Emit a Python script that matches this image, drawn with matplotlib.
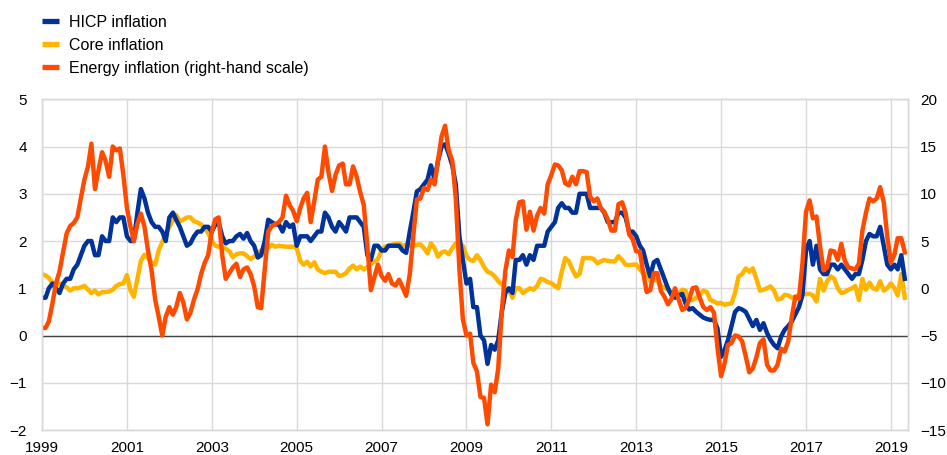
import matplotlib
matplotlib.use('Agg')
import matplotlib.pyplot as plt
from matplotlib.lines import Line2D
import pandas as pd

plt.rcParams['font.family'] = ['Liberation Sans', 'DejaVu Sans']
plt.rcParams['font.size'] = 11

# monthly data, Jan 1999 - May 2019 (annual % changes)
hicp = [
    0.8, 0.8, 1.0, 1.1, 1.0, 0.9, 1.1, 1.2, 1.2, 1.4, 1.5, 1.7,        # 1999
    1.9, 2.0, 2.0, 1.7, 1.7, 2.1, 2.0, 2.0, 2.5, 2.4, 2.5, 2.5,        # 2000
    2.1, 2.0, 2.0, 2.6, 3.1, 2.9, 2.6, 2.4, 2.3, 2.3, 2.2, 2.0,        # 2001
    2.5, 2.6, 2.45, 2.3, 2.1, 1.9, 1.95, 2.1, 2.2, 2.2, 2.3, 2.3,      # 2002
    2.2, 2.35, 2.4, 2.1, 1.95, 2.0, 2.0, 2.1, 2.15, 2.05, 2.17, 2.0,   # 2003
    1.9, 1.65, 1.7, 2.0, 2.45, 2.4, 2.35, 2.35, 2.2, 2.4, 2.3, 2.35,   # 2004
    1.9, 2.1, 2.1, 2.1, 2.0, 2.1, 2.2, 2.2, 2.6, 2.5, 2.3, 2.2,        # 2005
    2.4, 2.3, 2.2, 2.5, 2.5, 2.5, 2.4, 2.3, 1.7, 1.6, 1.9, 1.9,        # 2006
    1.8, 1.8, 1.9, 1.9, 1.9, 1.9, 1.8, 1.75, 2.2, 2.6, 3.05, 3.1,      # 2007
    3.2, 3.3, 3.6, 3.3, 3.7, 4.0, 4.05, 3.85, 3.6, 3.2, 2.1, 1.6,      # 2008
    1.1, 1.2, 0.6, 0.6, 0.0, -0.1, -0.6, -0.2, -0.3, -0.1, 0.5, 0.9,   # 2009
    1.0, 0.9, 1.6, 1.6, 1.7, 1.5, 1.7, 1.6, 1.9, 1.9, 1.9, 2.2,        # 2010
    2.3, 2.4, 2.7, 2.8, 2.7, 2.7, 2.6, 2.6, 3.0, 3.0, 3.0, 2.7,        # 2011
    2.7, 2.7, 2.7, 2.6, 2.4, 2.4, 2.4, 2.6, 2.6, 2.5, 2.2, 2.2,        # 2012
    2.1, 1.9, 1.8, 1.5, 1.25, 1.55, 1.6, 1.4, 1.2, 1.0, 0.85, 0.8,     # 2013
    0.85, 0.88, 0.68, 0.55, 0.58, 0.5, 0.44, 0.38, 0.35, 0.33, 0.33, 0.15,  # 2014
    -0.45, -0.3, -0.1, 0.2, 0.5, 0.58, 0.55, 0.5, 0.35, 0.2, 0.33, 0.12,    # 2015
    0.26, 0.05, -0.09, -0.2, -0.27, -0.02, 0.12, 0.2, 0.3, 0.45, 0.6, 0.85, # 2016
    1.8, 2.0, 1.5, 1.9, 1.4, 1.3, 1.3, 1.5, 1.5, 1.4, 1.5, 1.4,        # 2017
    1.3, 1.2, 1.3, 1.3, 1.6, 2.0, 2.15, 2.1, 2.1, 2.3, 1.9, 1.5,       # 2018
    1.4, 1.5, 1.4, 1.7, 1.2,                                           # 2019
]

core = [
    1.30, 1.27, 1.22, 1.12, 1.07, 1.09, 1.07, 1.02, 0.95, 1.0, 1.0, 1.02,
    1.05, 0.97, 0.9, 0.95, 0.87, 0.92, 0.92, 0.93, 0.97, 1.05, 1.09, 1.1,
    1.28, 0.95, 0.82, 1.2, 1.58, 1.71, 1.64, 1.55, 1.5, 1.8, 1.98, 2.15,
    2.3, 2.45, 2.55, 2.42, 2.45, 2.5, 2.5, 2.42, 2.39, 2.35, 2.27, 2.17,
    2.0, 1.9, 1.88, 1.86, 1.84, 1.78, 1.66, 1.72, 1.74, 1.74, 1.68, 1.62,
    1.67, 1.75, 1.8, 1.82, 1.86, 1.92, 1.88, 1.9, 1.89, 1.88, 1.88, 1.88,
    1.85, 1.58, 1.50, 1.56, 1.46, 1.55, 1.4, 1.35, 1.32, 1.35, 1.35, 1.35,
    1.26, 1.28, 1.32, 1.42, 1.48, 1.40, 1.46, 1.40, 1.45, 1.52, 1.56, 1.62,
    1.80, 1.88, 1.90, 1.92, 1.94, 1.95, 1.90, 1.92, 1.90, 1.90, 1.92, 1.93,
    1.85, 1.74, 1.95, 1.85, 1.67, 1.76, 1.78, 1.72, 1.85, 1.95, 1.95, 1.90,
    1.68, 1.60, 1.58, 1.7, 1.6, 1.45, 1.35, 1.32, 1.25, 1.15, 1.08, 1.0,
    0.95, 0.8, 1.0, 1.0, 0.9, 0.95, 1.0, 0.97, 1.05, 1.2, 1.18, 1.13,
    1.11, 1.05, 1.0, 1.35, 1.64, 1.57, 1.4, 1.25, 1.3, 1.64, 1.64, 1.64,
    1.62, 1.53, 1.57, 1.6, 1.58, 1.57, 1.57, 1.68, 1.6, 1.5, 1.49, 1.50,
    1.5, 1.4, 1.32, 1.30, 1.16, 1.18, 1.16, 1.05, 1.02, 0.97, 0.9, 0.82,
    0.88, 0.97, 0.95, 0.76, 0.75, 0.8, 0.86, 0.95, 0.92, 0.75, 0.72, 0.68,
    0.69, 0.65, 0.67, 0.68, 0.9, 1.25, 1.3, 1.42, 1.35, 1.42, 1.2, 0.95,
    0.97, 1.0, 1.04, 0.95, 0.76, 0.78, 0.86, 0.85, 0.8, 0.82, 0.86, 0.88,
    0.88, 0.88, 0.85, 0.72, 1.2, 0.95, 1.15, 1.25, 1.2, 1.0, 0.9, 0.92,
    0.97, 1.0, 1.05, 0.75, 1.2, 0.97, 1.12, 1.0, 0.97, 1.15, 0.95, 1.0,
    1.1, 1.0, 0.85, 1.3, 0.8,
]

energy = [
    -4.2, -4.2, -3.5, -1.6, 0.5, 1.8, 3.8, 5.8, 6.6, 6.9, 7.5, 9.5,
    11.5, 12.9, 15.3, 10.5, 12.5, 14.4, 13.5, 11.8, 15.0, 14.6, 14.8, 12.0,
    8.5, 6.5, 5.0, 6.8, 7.9, 6.5, 4.0, 1.9, -1.2, -3.0, -5.0, -3.0,
    -2.0, -2.8, -2.0, -0.5, -1.5, -3.3, -2.6, -1.2, -0.1, 1.5, 2.7, 3.5,
    6.0, 7.3, 7.5, 3.5, 1.0, 1.6, 2.2, 2.6, 1.2, 2.0, 2.2, 1.5,
    0.2, -2.0, -2.1, 2.0, 6.0, 6.6, 6.8, 7.0, 7.5, 9.8, 8.8, 8.2,
    7.1, 8.5, 9.5, 10.1, 7.0, 9.2, 11.5, 11.8, 15.0, 12.3, 10.3, 12.0,
    13.0, 13.2, 11.0, 11.0, 12.9, 11.8, 10.2, 8.8, 4.5, -0.2, 1.2, 2.5,
    1.3, 0.8, 1.5, 0.5, 0.3, 0.9, 0.1, -0.8, 1.5, 5.5, 9.4, 9.5,
    10.6, 10.4, 11.5, 11.0, 13.5, 16.1, 17.2, 14.6, 13.5, 9.5, 2.0, -3.3,
    -5.0, -4.8, -7.9, -8.8, -11.5, -11.6, -14.4, -10.2, -11.0, -8.5, -2.4, 1.8,
    4.0, 3.3, 7.2, 9.1, 9.2, 6.2, 8.1, 6.1, 7.7, 8.5, 7.9, 11.0,
    12.0, 13.1, 13.0, 12.5, 11.1, 10.9, 11.8, 11.0, 12.4, 12.4, 12.3, 9.7,
    9.2, 9.5, 8.5, 8.1, 7.3, 6.1, 6.1, 8.9, 9.1, 8.0, 5.7, 5.2,
    3.9, 3.9, 1.7, -0.4, -0.2, 1.6, 1.6, -0.3, -0.9, -1.7, -1.1, 0.0,
    -1.2, -2.3, -2.1, -1.2, 0.0, 0.1, -1.0, -2.0, -2.3, -2.0, -2.6, -6.3,
    -9.3, -7.9, -6.0, -5.8, -5.0, -5.1, -5.6, -7.2, -8.9, -8.5, -7.3, -5.8,
    -5.4, -8.1, -8.7, -8.7, -8.1, -6.4, -6.7, -5.6, -3.0, -0.9, -1.1, 2.6,
    8.1, 9.3, 7.4, 7.6, 4.5, 1.9, 2.2, 4.0, 3.9, 3.0, 4.7, 2.9,
    2.2, 2.1, 2.0, 2.6, 6.1, 8.0, 9.5, 9.2, 9.5, 10.7, 9.1, 5.5,
    2.7, 3.6, 5.3, 5.3, 3.8,
]

labels = ['HICP inflation', 'Core inflation', 'Energy inflation (right-hand scale)']
colors = ['#003299', '#FFB400', '#FF4B00']
year_ticks = list(range(1999, 2020, 2))

dates = pd.date_range('1999-01-01', periods=len(hicp), freq='MS')

fig = plt.figure(figsize=(9.47, 4.55), dpi=100)
ax = fig.add_axes([42 / 947, 1 - 430 / 455, (907.7 - 42) / 947, (430 - 99.3) / 455])
ax2 = ax.twinx()

grid_c = '#d9d9d9'
ax.set_axisbelow(True)
ax.grid(True, color=grid_c, lw=1.0)
ax.axhline(0, color='#444444', lw=1.0, zorder=1)

ax.plot(dates, hicp, color=colors[0], lw=3.2, zorder=3)
ax.plot(dates, core, color=colors[1], lw=3.2, zorder=2)
ax2.plot(dates, energy, color=colors[2], lw=3.2)

ax.set_xlim(pd.Timestamp('1999-01-01'), pd.Timestamp('2019-05-26'))
ax.set_ylim(-2, 5)
ax.set_yticks(range(-2, 6))
ax2.set_ylim(-15, 20)
ax2.set_yticks(range(-15, 21, 5))
ax.set_xticks([pd.Timestamp(f'{y}-01-01') for y in year_ticks])
ax.set_xticklabels([str(y) for y in year_ticks])

for a in (ax, ax2):
    for s in a.spines.values():
        s.set_color(grid_c)
        s.set_linewidth(1.0)
    a.tick_params(length=0, labelsize=11, colors='black')
ax.tick_params(axis='y', pad=11)
ax2.tick_params(axis='y', pad=9)
ax.tick_params(axis='x', pad=8)

handles = [Line2D([], [], color=c, lw=3.8, solid_capstyle='butt') for c in colors]
fig.legend(handles, labels, loc='upper left', bbox_to_anchor=(42 / 947, 1 - 15 / 455),
           frameon=False, fontsize=11.5, borderpad=0, borderaxespad=0,
           handlelength=1.05, handletextpad=0.62, labelspacing=0.5)

plt.savefig('out.png', dpi=100)
